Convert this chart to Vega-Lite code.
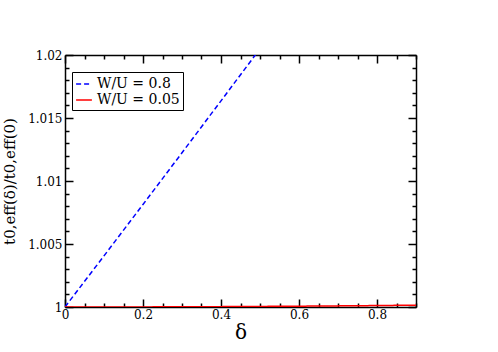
{
  "$schema": "https://vega.github.io/schema/vega-lite/v6.json",
  "autosize": {"type": "none"},
  "width": 351,
  "height": 252,
  "padding": {"left": 65, "top": 55, "right": 82, "bottom": 45},
  "background": "white",
  "config": {
    "view": {"stroke": null},
    "font": "DejaVu Serif",
    "legend": {"labelFont": "DejaVu Serif"},
    "axis": {
      "domainColor": "black",
      "domainWidth": 1.5,
      "tickColor": "black",
      "tickWidth": 1.5,
      "labelFont": "DejaVu Serif",
      "labelFontSize": 12,
      "labelColor": "black",
      "titleFont": "DejaVu Serif",
      "titleFontWeight": "normal",
      "titleColor": "black",
      "grid": false
    }
  },
  "data": {
    "values": [
      {"delta": 0.0, "t": 1.0, "series": "W/U = 0.8"},
      {"delta": 0.1, "t": 1.00406, "series": "W/U = 0.8"},
      {"delta": 0.2, "t": 1.00814, "series": "W/U = 0.8"},
      {"delta": 0.3, "t": 1.01224, "series": "W/U = 0.8"},
      {"delta": 0.4, "t": 1.01636, "series": "W/U = 0.8"},
      {"delta": 0.5, "t": 1.0205, "series": "W/U = 0.8"},
      {"delta": 0.6, "t": 1.02466, "series": "W/U = 0.8"},
      {"delta": 0.0, "t": 1.0, "series": "W/U = 0.05"},
      {"delta": 0.15, "t": 1.000004, "series": "W/U = 0.05"},
      {"delta": 0.3, "t": 1.000016, "series": "W/U = 0.05"},
      {"delta": 0.45, "t": 1.000036, "series": "W/U = 0.05"},
      {"delta": 0.6, "t": 1.000065, "series": "W/U = 0.05"},
      {"delta": 0.75, "t": 1.000101, "series": "W/U = 0.05"},
      {"delta": 0.9, "t": 1.000146, "series": "W/U = 0.05"}
    ]
  },
  "resolve": {"axis": {"x": "independent", "y": "independent"}},
  "layer": [
    {
      "mark": {"type": "line", "clip": true, "strokeWidth": 1.5},
      "encoding": {
        "x": {
          "field": "delta", "type": "quantitative",
          "scale": {"domain": [0, 0.9], "nice": false, "zero": false},
          "axis": {
            "orient": "bottom",
            "title": "δ",
            "titleFontSize": 20,
            "titlePadding": -2,
            "values": [0,0.05,0.1,0.15,0.2,0.25,0.3,0.35,0.4,0.45,0.5,0.55,0.6,0.65,0.7,0.75,0.8,0.85,0.9],
            "tickSize": {"condition": {"test": "abs(datum.value/0.2 - round(datum.value/0.2)) < 1e-6", "value": -8}, "value": -4},
            "labelExpr": "abs(datum.value/0.2 - round(datum.value/0.2)) < 1e-6 ? format(datum.value, '~g') : ''",
            "labelPadding": 10,
            "labelFlush": false,
            "labelOverlap": false
          }
        },
        "y": {
          "field": "t", "type": "quantitative",
          "scale": {"domain": [1, 1.02], "nice": false, "zero": false},
          "axis": {
            "orient": "left",
            "title": "t0,eff(δ)/t0,eff(0)",
            "titleFontSize": 15,
            "titlePadding": 10,
            "values": [1,1.001,1.002,1.003,1.004,1.005,1.006,1.007,1.008,1.009,1.01,1.011,1.012,1.013,1.014,1.015,1.016,1.017,1.018,1.019,1.02],
            "tickSize": {"condition": {"test": "abs((datum.value-1)/0.005 - round((datum.value-1)/0.005)) < 1e-6", "value": -8}, "value": -4},
            "labelExpr": "abs((datum.value-1)/0.005 - round((datum.value-1)/0.005)) < 1e-6 ? format(datum.value, '~g') : ''",
            "labelPadding": 11,
            "labelFlush": false,
            "labelOverlap": false
          }
        },
        "color": {
          "field": "series", "type": "nominal",
          "sort": ["W/U = 0.8", "W/U = 0.05"],
          "scale": {"domain": ["W/U = 0.8", "W/U = 0.05"], "range": ["#0000ff", "#ff0000"]},
          "legend": {
            "title": null,
            "orient": "none",
            "legendX": 7,
            "legendY": 17,
            "symbolType": "stroke",
            "symbolSize": 250,
            "symbolStrokeWidth": 1.5,
            "labelFont": "DejaVu Serif",
            "labelFontSize": 14,
            "labelColor": "black",
            "strokeColor": "black",
            "padding": 3,
            "rowPadding": 0,
            "fillColor": "white"
          }
        },
        "strokeDash": {
          "field": "series", "type": "nominal",
          "sort": ["W/U = 0.8", "W/U = 0.05"],
          "scale": {"domain": ["W/U = 0.8", "W/U = 0.05"], "range": [[5, 3], [1, 0]]},
          "legend": null
        }
      }
    },
    {
      "mark": {"type": "line", "opacity": 0},
      "encoding": {
        "x": {
          "field": "delta", "type": "quantitative",
          "scale": {"domain": [0, 0.9], "nice": false, "zero": false},
          "axis": {
            "orient": "top",
            "title": null,
            "values": [0,0.05,0.1,0.15,0.2,0.25,0.3,0.35,0.4,0.45,0.5,0.55,0.6,0.65,0.7,0.75,0.8,0.85,0.9],
            "tickSize": {"condition": {"test": "abs(datum.value/0.2 - round(datum.value/0.2)) < 1e-6", "value": -8}, "value": -4},
            "labels": false
          }
        },
        "y": {
          "field": "t", "type": "quantitative",
          "scale": {"domain": [1, 1.02], "nice": false, "zero": false},
          "axis": {
            "orient": "right",
            "title": null,
            "values": [1,1.001,1.002,1.003,1.004,1.005,1.006,1.007,1.008,1.009,1.01,1.011,1.012,1.013,1.014,1.015,1.016,1.017,1.018,1.019,1.02],
            "tickSize": {"condition": {"test": "abs((datum.value-1)/0.005 - round((datum.value-1)/0.005)) < 1e-6", "value": -8}, "value": -4},
            "labels": false
          }
        },
        "detail": {"field": "series", "type": "nominal"}
      }
    }
  ]
}
